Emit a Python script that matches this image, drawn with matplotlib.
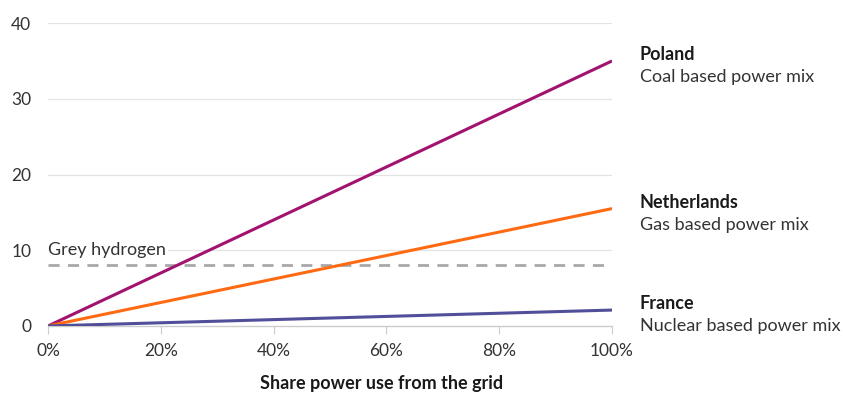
import matplotlib
matplotlib.use("Agg")
import matplotlib.pyplot as plt
from matplotlib.ticker import FuncFormatter

plt.rcParams['font.family'] = ['Lato', 'DejaVu Sans']

# Share of power taken from the grid (fraction) and resulting emissions
grid_share = [0.0, 1.0]
poland = [0.0, 35.0]
netherlands = [0.0, 15.5]
france = [0.0, 2.1]
grey_hydrogen = 8.0

countries = ["Poland", "Netherlands", "France"]
mixes = ["Coal based power mix", "Gas based power mix", "Nuclear based power mix"]
series = [poland, netherlands, france]
colors = ["#A2126F", "#FF6A13", "#524F9A"]

x_ticks = [0.0, 0.2, 0.4, 0.6, 0.8, 1.0]
y_ticks = [0, 10, 20, 30, 40]

fig = plt.figure(figsize=(8.43, 3.98), dpi=100)
ax = fig.add_axes([0.057, 0.181, 0.669, 0.761])

for y in y_ticks[1:]:
    ax.axhline(y, color="#E3E3E3", lw=0.9, zorder=0)

ax.plot([0, 1], [grey_hydrogen, grey_hydrogen], color="#A8A8A8", lw=2,
        dashes=(4, 3), zorder=2)
ax.text(0.0, 10.0, "Grey hydrogen", fontsize=13, color="#333333",
        va="center", ha="left",
        bbox=dict(facecolor="white", edgecolor="none", pad=1.5), zorder=3)

for vals, c in zip(series, colors):
    ax.plot(grid_share, vals, color=c, lw=2.2, zorder=4, solid_capstyle="butt")

for name, mix, vals in zip(countries, mixes, series):
    ax.annotate(name, xy=(1.0, vals[-1]), xytext=(20, 4.5),
                textcoords="offset points", fontsize=13, fontweight="bold",
                color="#1a1a1a", va="center", ha="left", annotation_clip=False)
    ax.annotate(mix, xy=(1.0, vals[-1]), xytext=(20, -11.5),
                textcoords="offset points", fontsize=13,
                color="#333333", va="center", ha="left", annotation_clip=False)

ax.set_xlim(0, 1)
ax.set_ylim(0, 40)
ax.set_xticks(x_ticks)
ax.set_yticks(y_ticks)
ax.xaxis.set_major_formatter(FuncFormatter(lambda v, p: f"{v*100:.0f}%"))

for s in ["top", "right", "left"]:
    ax.spines[s].set_visible(False)
ax.spines["bottom"].set_color("#CCCCCC")
ax.spines["bottom"].set_linewidth(1.0)
ax.tick_params(axis="x", direction="out", length=6, color="#CCCCCC",
               labelsize=12.5, labelcolor="#333333", pad=6)
ax.tick_params(axis="y", length=0, labelsize=12.5, labelcolor="#333333", pad=12)

fig.text(382 / 843, 1 - 383 / 398, "Share power use from the grid",
         fontsize=13, fontweight="bold", color="#1a1a1a",
         ha="center", va="center")

fig.savefig("out.png", dpi=100, facecolor="white")
